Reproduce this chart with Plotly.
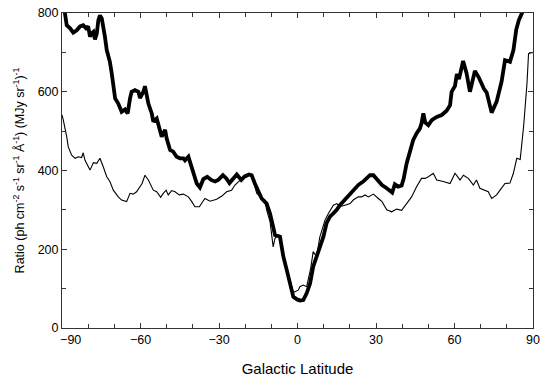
import plotly.graph_objects as go

# Galactic latitude (deg) and ratio values for the two profiles
lat_thick = [-90, -89, -88.2, -86.9, -85.7, -84.4, -83.1, -81.9, -80.8, -80, -79.3, -78.7, -78, -77.4,
             -76.7, -76.1, -75.5, -74.8, -74.2, -73.6, -72.9, -71.7, -71, -70.4, -69.7, -68.5, -67.2,
             -65.9, -64.9, -64, -63.4, -62.1, -60.8, -60.2, -58.9, -58.3, -57, -55.7, -55.1, -53.8,
             -53.2, -51.9, -50.6, -50, -48.7, -47.5, -46.2, -44.9, -43.6, -43, -41.7, -41.1, -39.8,
             -38.5, -37.3, -36, -34.5, -33, -31.5, -30.3, -28.5, -27.2, -26, -24.5, -23.2, -21.5,
             -20.2, -18.5, -17.5, -16.3, -15, -13.7, -11.8, -10.5, -9.3, -8.6, -6.7, -5.4, -4.1,
             -2.9, -1.6, 0, 1, 2.2, 3.5, 4.8, 6, 7.3, 8.6, 9.9, 11.1, 12.4, 13.7, 15, 16.2, 18.1,
             20.1, 21.3, 23.2, 25.1, 26.4, 27.7, 29, 30.9, 32.3, 34.1, 36.2, 37.2, 38.5, 39.8, 40.6,
             41.7, 43, 44.2, 45.5, 46.8, 47.4, 48.1, 48.8, 50, 51.3, 53.2, 55.1, 57, 58.3, 58.9,
             60.2, 60.9, 61.7, 63.3, 64.6, 65.9, 67.8, 69.3, 71.2, 72.3, 74.2, 76.1, 78, 79.3, 81.2,
             82.5, 83.6, 84.6, 85.8, 87, 88.5, 90]
ratio_thick = [850, 800, 769, 761, 750, 756, 766, 769, 761, 766, 740, 748, 752, 733,
               748, 782, 794, 786, 765, 740, 706, 676, 647, 612, 583, 570, 549,
               555, 545, 583, 600, 604, 600, 584, 600, 614, 570, 545, 524, 532,
               515, 486, 503, 481, 452, 448, 435, 431, 431, 426, 435, 422, 393,
               367, 357, 378, 384, 376, 372, 376, 388, 380, 368, 380, 390, 376,
               385, 390, 388, 367, 346, 329, 316, 291, 257, 236, 232, 181, 147,
               113, 79, 72, 70, 71, 88, 113, 156, 181, 206, 232, 266, 283, 291, 300, 312, 325,
               342, 350, 363, 372, 380, 388, 388, 372, 363, 355, 344, 365, 359, 362, 380,
               418, 452, 477, 494, 507, 520, 545, 522, 515, 528, 536, 541, 552, 566, 600,
               615, 645, 632, 678, 647, 600, 653, 636, 608, 598, 547, 575, 626, 680, 676,
               705, 758, 782, 800, 830, 850, 870]

lat_thin = [-90, -89.5, -88.2, -87.6, -86.3, -85, -83.8, -82.5, -81.9, -81.2, -79.3, -78, -76.7,
            -75.5, -74.2, -72.9, -71.7, -70.4, -68.5, -67.2, -65.3, -64, -62.8, -61.5, -59.4,
            -58.3, -57, -55.1, -53.8, -52.3, -51.3, -50.2, -49.4, -48.1, -46.8, -45.2, -43.6,
            -41.7, -40.4, -39.2, -37.5, -35.4, -33.4, -30.9, -28.9, -27.1, -25.2, -23.9, -22,
            -20.2, -18.5, -17.3, -15.6, -13.7, -12.4, -11.8, -10.5, -9.3, -8.6, -7.3, -5.5, -4,
            -2.8, -1.6, -1, 0.3, 0.9, 2.2, 3.5, 5, 6, 7.3, 8.5, 10.5, 11.8, 13.7, 15, 16.2, 18.1,
            20.1, 21.3, 23.2, 24.5, 25.8, 27.1, 29, 30.9, 32.3, 34.1, 36, 37.9, 39.8, 41.7, 43.6,
            45.5, 47.4, 48.7, 50, 51.9, 53.2, 55.7, 58.3, 60.2, 62.1, 63.4, 65.3, 67.2, 68.4,
            69.7, 71.6, 72.9, 74.2, 76.1, 77.4, 79.3, 81.2, 82.5, 83.8, 85.1, 86.4, 87.7, 88.3,
            89.6, 90]
ratio_thin = [541, 528, 486, 460, 439, 431, 435, 433, 445, 426, 401, 420, 418,
              431, 409, 384, 372, 350, 333, 325, 321, 342, 340, 346, 367,
              388, 376, 350, 346, 332, 342, 350, 338, 349, 346, 338, 340,
              333, 321, 308, 308, 329, 322, 327, 335, 346, 350, 363, 375,
              382, 388, 385, 342, 329, 325, 300, 270, 206, 228, 236, 190, 150,
              115, 90, 92, 96, 105, 109, 105, 150, 194, 181, 230, 274, 291, 312, 316, 308, 312,
              316, 325, 333, 333, 338, 333, 340, 329, 321, 300, 295, 302, 299, 316, 333,
              359, 380, 380, 384, 393, 376, 372, 367, 393, 376, 388, 380, 363, 376,
              355, 350, 346, 329, 338, 350, 367, 368, 393, 431, 428, 511, 621, 697,
              699, 700]

x_ticks = [-90, -60, -30, 0, 30, 60, 90]
# leading no-break spaces nudge the first label off the y-axis "0"
x_labels = ["\u00a0\u00a0\u00a0\u00a0\u00a0\u221290", "\u221260", "\u221230", "0", "30", "60", "90"]
y_ticks = [0, 200, 400, 600, 800]

FONT = "Liberation Sans, Arial, Helvetica, sans-serif"

fig = go.Figure()
fig.add_trace(go.Scatter(x=lat_thin, y=ratio_thin, mode="lines",
                         line=dict(color="black", width=1.1), showlegend=False))
fig.add_trace(go.Scatter(x=lat_thick, y=ratio_thick, mode="lines",
                         line=dict(color="black", width=3.8), showlegend=False))

axis_common = dict(
    showline=True, linecolor="#333", linewidth=1, mirror="ticks",
    ticks="inside", ticklen=5, tickcolor="#333", tickwidth=1,
    showgrid=False, zeroline=False,
    tickfont=dict(family=FONT, size=12.5, color="black"),
)

fig.update_xaxes(
    range=[-90, 90], tickvals=x_ticks, ticktext=x_labels,
    minor=dict(dtick=10, ticks="inside", ticklen=4, tickcolor="#333", showgrid=False),
    title=dict(text="Galactic Latitude", standoff=17,
               font=dict(family=FONT, size=15, color="black")),
    **axis_common,
)
fig.update_yaxes(
    range=[0, 800], tickvals=y_ticks,
    minor=dict(dtick=100, ticks="inside", ticklen=4, tickcolor="#333", showgrid=False),
    title=dict(text="Ratio (ph cm<sup>-2</sup> s<sup>-1</sup> sr<sup>-1</sup> \u00c5<sup>-1</sup>) (MJy sr<sup>-1</sup>)<sup>-1</sup>",
               standoff=10,
               font=dict(family=FONT, size=12.5, color="black")),
    **axis_common,
)

fig.update_layout(
    width=540, height=381,
    margin=dict(l=62, r=7, t=13, b=53, autoexpand=False),
    plot_bgcolor="white", paper_bgcolor="white",
)

fig.write_html("out.html")
